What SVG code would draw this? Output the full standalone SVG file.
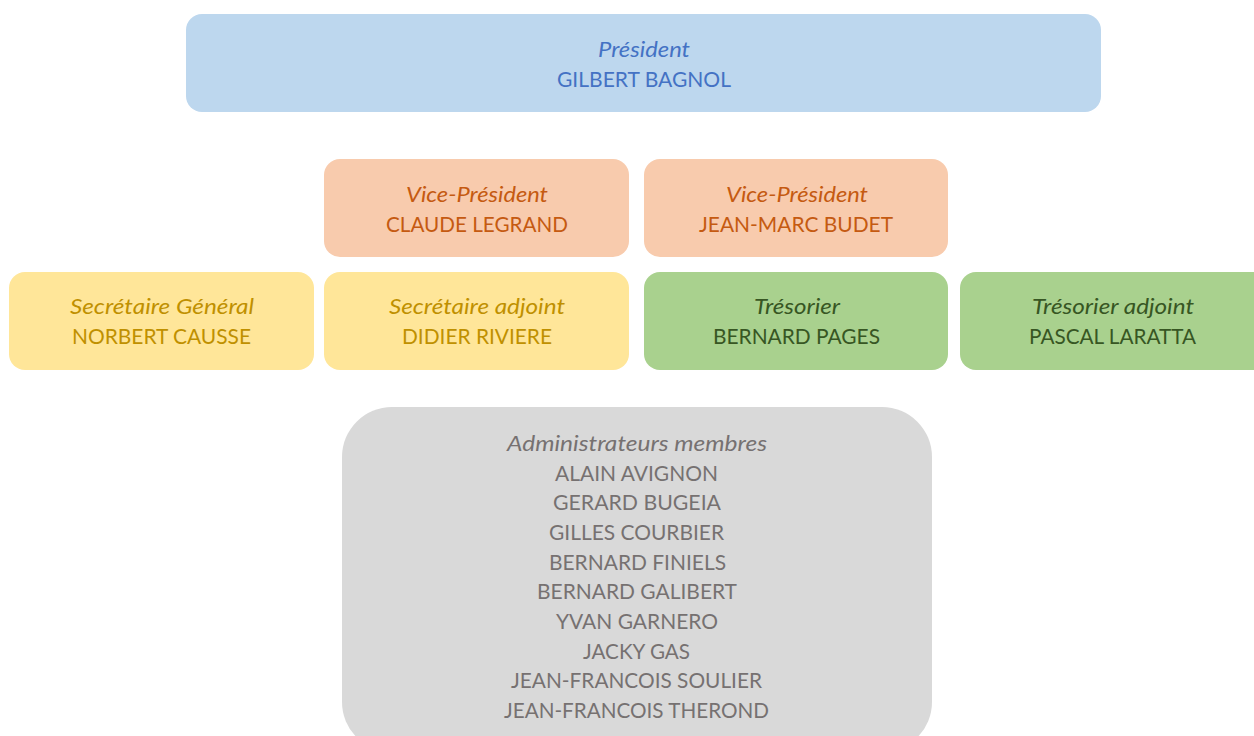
<svg xmlns="http://www.w3.org/2000/svg" width="1254" height="736" viewBox="0 0 1254 736">
<style>
text{font-family:Lato,"Open Sans","Liberation Sans",sans-serif;font-size:21px;text-anchor:middle}
.r{font-style:italic}
.blue rect{fill:#BDD7EE}.blue text{fill:#4472C4}
.org rect{fill:#F8CBAD}.org text{fill:#C55A11}
.yel rect{fill:#FFE699}.yel text{fill:#BF9000}
.grn rect{fill:#A9D18E}.grn text{fill:#375623}
.gry rect{fill:#D9D9D9}.gry text{fill:#767171}
</style>
<rect width="1254" height="736" fill="#FFFFFF"/>
<g id="connectors"/>
<g id="president" class="blue"><rect x="186" y="14" width="915" height="98" rx="16"/><text class="r" x="644" y="57" textLength="92" lengthAdjust="spacingAndGlyphs">Président</text><text x="644" y="87" textLength="174" lengthAdjust="spacingAndGlyphs">GILBERT BAGNOL</text></g>
<g id="vp1" class="org"><rect x="324" y="159" width="305" height="98" rx="16"/><text class="r" x="477" y="202" textLength="142" lengthAdjust="spacingAndGlyphs">Vice-Président</text><text x="477" y="232" textLength="182" lengthAdjust="spacingAndGlyphs">CLAUDE LEGRAND</text></g>
<g id="vp2" class="org"><rect x="644" y="159" width="304" height="98" rx="16"/><text class="r" x="797" y="202" textLength="142" lengthAdjust="spacingAndGlyphs">Vice-Président</text><text x="796" y="232" textLength="194" lengthAdjust="spacingAndGlyphs">JEAN-MARC BUDET</text></g>
<g id="secgen" class="yel"><rect x="9" y="272" width="305" height="98" rx="16"/><text class="r" x="162" y="314" textLength="184" lengthAdjust="spacingAndGlyphs">Secrétaire Général</text><text x="161.5" y="344" textLength="179" lengthAdjust="spacingAndGlyphs">NORBERT CAUSSE</text></g>
<g id="secadj" class="yel"><rect x="324" y="272" width="305" height="98" rx="16"/><text class="r" x="477" y="314" textLength="176" lengthAdjust="spacingAndGlyphs">Secrétaire adjoint</text><text x="477" y="344" textLength="150" lengthAdjust="spacingAndGlyphs">DIDIER RIVIERE</text></g>
<g id="tres" class="grn"><rect x="644" y="272" width="304" height="98" rx="16"/><text class="r" x="797" y="314" textLength="86" lengthAdjust="spacingAndGlyphs">Trésorier</text><text x="796.5" y="344" textLength="167" lengthAdjust="spacingAndGlyphs">BERNARD PAGES</text></g>
<g id="tresadj" class="grn"><rect x="960" y="272" width="310" height="98" rx="16"/><text class="r" x="1113" y="314" textLength="162" lengthAdjust="spacingAndGlyphs">Trésorier adjoint</text><text x="1112.5" y="344" textLength="167" lengthAdjust="spacingAndGlyphs">PASCAL LARATTA</text></g>
<g id="admins" class="gry"><rect x="342" y="407" width="590" height="345" rx="50"/>
<text class="r" x="637" y="451" textLength="260" lengthAdjust="spacingAndGlyphs">Administrateurs membres</text>
<text x="636.5" y="480.5" textLength="163" lengthAdjust="spacingAndGlyphs">ALAIN AVIGNON</text>
<text x="637" y="510" textLength="168" lengthAdjust="spacingAndGlyphs">GERARD BUGEIA</text>
<text x="636.5" y="540" textLength="175" lengthAdjust="spacingAndGlyphs">GILLES COURBIER</text>
<text x="637.5" y="569.5" textLength="177" lengthAdjust="spacingAndGlyphs">BERNARD FINIELS</text>
<text x="637" y="599" textLength="200" lengthAdjust="spacingAndGlyphs">BERNARD GALIBERT</text>
<text x="637" y="629" textLength="162" lengthAdjust="spacingAndGlyphs">YVAN GARNERO</text>
<text x="636.5" y="658.5" textLength="107" lengthAdjust="spacingAndGlyphs">JACKY GAS</text>
<text x="636.5" y="688" textLength="251" lengthAdjust="spacingAndGlyphs">JEAN-FRANCOIS SOULIER</text>
<text x="636.5" y="718" textLength="265" lengthAdjust="spacingAndGlyphs">JEAN-FRANCOIS THEROND</text>
</g>
</svg>
